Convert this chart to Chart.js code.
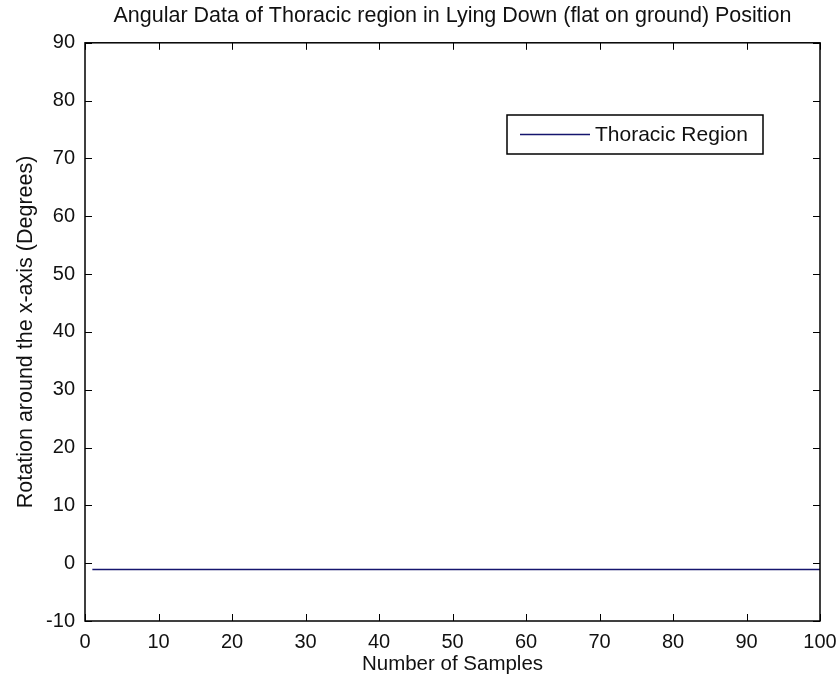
<!DOCTYPE html>
<html>
<head>
<meta charset="utf-8">
<style>
  body { margin: 0; background: #fff; }
</style>
</head>
<body>
<canvas id="myChart" width="839" height="686"></canvas>

<script src="https://cdn.jsdelivr.net/npm/chart.js"></script>
<script>
    // one reading per sample, samples numbered from 1
    const firstSample = 1;
    const thoracic = [
        -1.1, -1.1, -1.1, -1.1, -1.1, -1.1, -1.1, -1.1, -1.1, -1.1,
        -1.1, -1.1, -1.1, -1.1, -1.1, -1.1, -1.1, -1.1, -1.1, -1.1,
        -1.1, -1.1, -1.1, -1.1, -1.1, -1.1, -1.1, -1.1, -1.1, -1.1,
        -1.1, -1.1, -1.1, -1.1, -1.1, -1.1, -1.1, -1.1, -1.1, -1.1,
        -1.1, -1.1, -1.1, -1.1, -1.1, -1.1, -1.1, -1.1, -1.1, -1.1,
        -1.1, -1.1, -1.1, -1.1, -1.1, -1.1, -1.1, -1.1, -1.1, -1.1,
        -1.1, -1.1, -1.1, -1.1, -1.1, -1.1, -1.1, -1.1, -1.1, -1.1,
        -1.1, -1.1, -1.1, -1.1, -1.1, -1.1, -1.1, -1.1, -1.1, -1.1,
        -1.1, -1.1, -1.1, -1.1, -1.1, -1.1, -1.1, -1.1, -1.1, -1.1,
        -1.1, -1.1, -1.1, -1.1, -1.1, -1.1, -1.1, -1.1, -1.1, -1.1
    ];
    const xRange = [0, 100];
    const yRange = [-10, 90];
    const tickStep = 10;

    const FONT = "'Liberation Sans', Arial, sans-serif";
    const LINE_COLOR = '#15156e';

    // matlab style box with inward ticks + legend inside the axes
    const matlabBox = {
        id: 'matlabBox',
        afterDraw(chart) {
            const ctx = chart.ctx;
            const a = chart.chartArea;
            const xs = chart.scales.x, ys = chart.scales.y;
            const tl = 7;
            ctx.save();
            ctx.strokeStyle = '#000';
            ctx.lineWidth = 1.5;
            ctx.strokeRect(a.left, a.top, a.right - a.left, a.bottom - a.top);
            ctx.lineWidth = 1;
            ctx.beginPath();
            xs.ticks.forEach(t => {
                const px = Math.round(xs.getPixelForValue(t.value)) + 0.5;
                ctx.moveTo(px, a.bottom); ctx.lineTo(px, a.bottom - tl);
                ctx.moveTo(px, a.top); ctx.lineTo(px, a.top + tl);
            });
            ys.ticks.forEach(t => {
                const py = Math.round(ys.getPixelForValue(t.value)) + 0.5;
                ctx.moveTo(a.left, py); ctx.lineTo(a.left + tl, py);
                ctx.moveTo(a.right, py); ctx.lineTo(a.right - tl, py);
            });
            ctx.stroke();

            // legend
            const ds = chart.data.datasets[0];
            const bx = 507, by = 115, bw = 256, bh = 39;
            ctx.fillStyle = '#fff';
            ctx.fillRect(bx, by, bw, bh);
            ctx.lineWidth = 1.5;
            ctx.strokeRect(bx, by, bw, bh);
            ctx.strokeStyle = ds.borderColor;
            ctx.lineWidth = 1.5;
            ctx.beginPath();
            ctx.moveTo(520, 134.5); ctx.lineTo(590, 134.5);
            ctx.stroke();
            ctx.fillStyle = '#111';
            ctx.font = '21px ' + FONT;
            ctx.textBaseline = 'middle';
            ctx.fillText(ds.label, 595, 135);
            ctx.restore();
        }
    };

    const data = {
        datasets: [{
            label: 'Thoracic Region',
            data: thoracic.map((v, i) => ({ x: firstSample + i, y: v })),
            borderColor: LINE_COLOR,
            borderWidth: 1.5,
            pointRadius: 0,
            fill: false,
            tension: 0
        }]
    };

    const config = {
        type: 'line',
        data: data,
        options: {
            responsive: false,
            animation: false,
            devicePixelRatio: 1,
            layout: { padding: { left: 0, right: 0, top: 0, bottom: 0 } },
            plugins: {
                legend: { display: false },
                tooltip: { enabled: false },
                title: {
                    display: true,
                    fullSize: false,
                    text: 'Angular Data of Thoracic region in Lying Down (flat on ground) Position',
                    color: '#111',
                    font: { family: FONT, size: 21.5, weight: 'normal', lineHeight: 1.2 },
                    padding: { top: 3, bottom: 14 }
                }
            },
            scales: {
                x: {
                    type: 'linear',
                    min: xRange[0],
                    max: xRange[1],
                    grid: { display: false, drawTicks: false },
                    border: { display: false },
                    ticks: {
                        stepSize: tickStep,
                        color: '#111',
                        padding: 9,
                        maxRotation: 0,
                        font: { family: FONT, size: 20 }
                    },
                    title: {
                        display: true,
                        text: 'Number of Samples',
                        color: '#111',
                        font: { family: FONT, size: 20.5, lineHeight: 1.2 },
                        padding: { top: 0, bottom: 9 }
                    },
                    afterFit(scale) {
                        scale.height = 65;
                        scale.paddingLeft = 0;
                        scale.paddingRight = 19;
                    }
                },
                y: {
                    min: yRange[0],
                    max: yRange[1],
                    grid: { display: false, drawTicks: false },
                    border: { display: false },
                    ticks: {
                        stepSize: tickStep,
                        color: '#111',
                        padding: 10,
                        font: { family: FONT, size: 20 }
                    },
                    title: {
                        display: true,
                        text: 'Rotation around the x-axis (Degrees)',
                        color: '#111',
                        font: { family: FONT, size: 21.5, lineHeight: 1.2 },
                        padding: { top: 13, bottom: 0 }
                    },
                    afterFit(scale) {
                        scale.width = 85;
                        scale.paddingTop = 0;
                        scale.paddingBottom = 0;
                    }
                }
            }
        },
        plugins: [matlabBox]
    };

    const myChart = new Chart(document.getElementById('myChart'), config);
</script>
</body>
</html>
